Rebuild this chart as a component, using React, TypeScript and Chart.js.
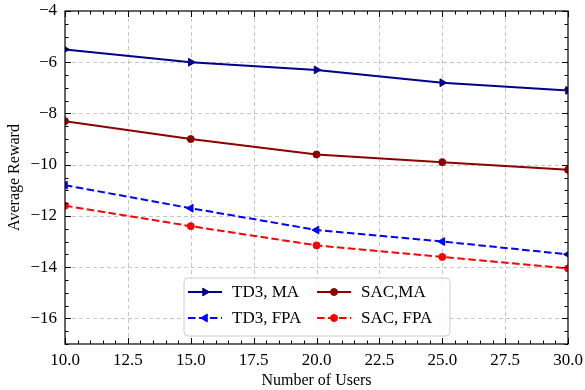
import React, { useEffect, useRef } from "react";
import { Chart, registerables } from "chart.js";
Chart.register(...registerables);

const users = [10, 15, 20, 25, 30];
const td3MA = [-5.5, -6.0, -6.3, -6.8, -7.1];
const td3FPA = [-10.8, -11.7, -12.55, -13.0, -13.5];
const sacMA = [-8.3, -9.0, -9.6, -9.9, -10.2];
const sacFPA = [-11.6, -12.4, -13.15, -13.6, -14.05];
const xTicks = [10, 12.5, 15, 17.5, 20, 22.5, 25, 27.5, 30];
const yTicks = [-16, -14, -12, -10, -8, -6, -4];
const seriesNames = ["TD3, MA", "TD3, FPA", "SAC,MA", "SAC, FPA"];
const xTitle = "Number of Users";
const yTitle = "Average Reward";

const FONT = "'Liberation Serif', 'DejaVu Serif', serif";
const fmtMinus = (v: number, d: number) => {
  const s = Math.abs(v).toFixed(d);
  return v < 0 ? "\u2212" + s : s;
};

type Style = { color: string; dash: number[]; point: string; rot: number; r: number };
const styles: Style[] = [
  { color: "#00008b", dash: [], point: "triangle", rot: 90, r: 4.5 },
  { color: "#0000ff", dash: [7.5, 3.5], point: "triangle", rot: -90, r: 4.5 },
  { color: "#8b0000", dash: [], point: "circle", rot: 0, r: 3.5 },
  { color: "#ff0000", dash: [7.5, 3.5], point: "circle", rot: 0, r: 3.5 },
];
const seriesData = [td3MA, td3FPA, sacMA, sacFPA];

function drawMarker(ctx: CanvasRenderingContext2D, st: Style, x: number, y: number) {
  ctx.save();
  ctx.fillStyle = st.color;
  ctx.strokeStyle = st.color;
  ctx.lineWidth = 1;
  ctx.setLineDash([]);
  ctx.beginPath();
  if (st.point === "circle") {
    ctx.arc(x, y, st.r, 0, Math.PI * 2);
  } else {
    const r = st.r;
    const rad = (st.rot * Math.PI) / 180;
    for (let k = 0; k < 3; k++) {
      const ang = rad - Math.PI / 2 + (k * 2 * Math.PI) / 3;
      const px = x + Math.cos(ang) * r;
      const py = y + Math.sin(ang) * r;
      if (k === 0) ctx.moveTo(px, py);
      else ctx.lineTo(px, py);
    }
    ctx.closePath();
  }
  ctx.fill();
  ctx.stroke();
  ctx.restore();
}

const decorPlugin = {
  id: "decor",
  beforeDatasetsDraw(chart: any) {
    const { ctx, chartArea: a, scales } = chart;
    ctx.save();
    ctx.strokeStyle = "#b8b8b8";
    ctx.lineWidth = 0.8;
    ctx.setLineDash([4, 3]);
    for (const v of xTicks) {
      const x = Math.round(scales.x.getPixelForValue(v)) + 0.5;
      if (x <= a.left + 1 || x >= a.right - 1) continue;
      ctx.beginPath();
      ctx.moveTo(x, a.top);
      ctx.lineTo(x, a.bottom);
      ctx.stroke();
    }
    for (const v of yTicks) {
      const y = Math.round(scales.y.getPixelForValue(v)) + 0.5;
      if (y <= a.top + 1 || y >= a.bottom - 1) continue;
      ctx.beginPath();
      ctx.moveTo(a.left, y);
      ctx.lineTo(a.right, y);
      ctx.stroke();
    }
    ctx.restore();
  },
  afterDatasetsDraw(chart: any) {
    const { ctx, chartArea: a, scales } = chart;
    ctx.save();
    ctx.setLineDash([]);
    ctx.strokeStyle = "#000";
    ctx.lineWidth = 1;
    const drawX = (v: number, len: number) => {
      const x = Math.round(scales.x.getPixelForValue(v)) + 0.5;
      ctx.beginPath();
      ctx.moveTo(x, a.bottom);
      ctx.lineTo(x, a.bottom - len);
      ctx.moveTo(x, a.top);
      ctx.lineTo(x, a.top + len);
      ctx.stroke();
    };
    const drawY = (v: number, len: number) => {
      const y = Math.round(scales.y.getPixelForValue(v)) + 0.5;
      ctx.beginPath();
      ctx.moveTo(a.left, y);
      ctx.lineTo(a.left + len, y);
      ctx.moveTo(a.right, y);
      ctx.lineTo(a.right - len, y);
      ctx.stroke();
    };
    for (let i = 0; i <= 40; i++) {
      const v = 10 + i * 0.5;
      drawX(v, i % 5 === 0 ? 6 : 3.5);
    }
    for (let i = 0; i <= 26; i++) {
      const v = -17 + i * 0.5;
      drawY(v, Math.abs(v % 2) < 1e-9 ? 6 : 3.5);
    }
    ctx.lineWidth = 1.2;
    ctx.strokeRect(a.left, a.top, a.right - a.left, a.bottom - a.top);

    // legend
    const bx = 184, by = 278, bw = 266, bh = 58, r = 4;
    ctx.beginPath();
    ctx.moveTo(bx + r, by);
    ctx.arcTo(bx + bw, by, bx + bw, by + bh, r);
    ctx.arcTo(bx + bw, by + bh, bx, by + bh, r);
    ctx.arcTo(bx, by + bh, bx, by, r);
    ctx.arcTo(bx, by, bx + bw, by, r);
    ctx.closePath();
    ctx.fillStyle = "rgba(255,255,255,0.85)";
    ctx.fill();
    ctx.strokeStyle = "#cccccc";
    ctx.lineWidth = 1;
    ctx.stroke();

    const cols = [188, 317];
    const rows = [292, 318];
    ctx.font = `17px ${FONT}`;
    ctx.textBaseline = "middle";
    ctx.textAlign = "left";
    for (let i = 0; i < 4; i++) {
      const st = styles[i];
      const x0 = cols[Math.floor(i / 2)];
      const y0 = rows[i % 2];
      ctx.strokeStyle = st.color;
      ctx.lineWidth = 2;
      ctx.setLineDash(st.dash);
      ctx.beginPath();
      ctx.moveTo(x0, y0);
      ctx.lineTo(x0 + 34, y0);
      ctx.stroke();
      drawMarker(ctx, st, x0 + 17, y0);
      ctx.fillStyle = "#000";
      ctx.fillText(seriesNames[i], x0 + 44, y0 + 1);
    }
    ctx.restore();
  },
};

export default function App() {
  const ref = useRef<HTMLCanvasElement | null>(null);
  useEffect(() => {
    document.body.style.margin = "0";
    const canvas = ref.current!;
    const chart = new Chart(canvas, {
      type: "line",
      data: {
        datasets: seriesData.map((arr, i) => ({
          label: seriesNames[i],
          data: arr.map((y, j) => ({ x: users[j], y })),
          borderColor: styles[i].color,
          backgroundColor: styles[i].color,
          borderWidth: 2,
          borderDash: styles[i].dash,
          pointStyle: styles[i].point as any,
          pointRotation: styles[i].rot,
          pointRadius: styles[i].r,
          pointBorderWidth: 1,
          tension: 0,
          clip: 0 as any,
        })),
      },
      options: {
        animation: false,
        responsive: false,
        devicePixelRatio: 1,
        layout: { padding: { top: 11, right: 17, left: 0, bottom: 0 } },
        plugins: { legend: { display: false }, tooltip: { enabled: false } },
        scales: {
          x: {
            type: "linear",
            min: 10,
            max: 30,
            afterBuildTicks: (s: any) => { s.ticks = xTicks.map((v) => ({ value: v })); },
            afterFit: (s: any) => { s.height = 46; s.paddingLeft = 0; s.paddingRight = 0; },
            grid: { display: false, drawTicks: false },
            border: { display: false },
            ticks: {
              color: "#000",
              font: { family: FONT, size: 17 },
              padding: 6,
              maxRotation: 0,
              callback: (v: any) => Number(v).toFixed(1),
            },
            title: { display: true, text: xTitle, color: "#000", font: { family: FONT, size: 16 }, padding: 0 },
          },
          y: {
            type: "linear",
            min: -17,
            max: -4,
            afterBuildTicks: (s: any) => { s.ticks = yTicks.map((v) => ({ value: v })); },
            afterFit: (s: any) => { s.width = 65; s.paddingTop = 0; s.paddingBottom = 0; },
            grid: { display: false, drawTicks: false },
            border: { display: false },
            ticks: {
              color: "#000",
              font: { family: FONT, size: 17 },
              padding: 8,
              callback: (v: any) => fmtMinus(Number(v), 0),
            },
            title: { display: true, text: yTitle, color: "#000", font: { family: FONT, size: 16 }, padding: { top: 5, bottom: 0 } },
          },
        },
      },
      plugins: [decorPlugin],
    });
    return () => chart.destroy();
  }, []);
  return (
    <div style={{ position: "absolute", left: 0, top: 0, width: 585, height: 390 }}>
      <canvas ref={ref} width={585} height={390} />
    </div>
  );
}
